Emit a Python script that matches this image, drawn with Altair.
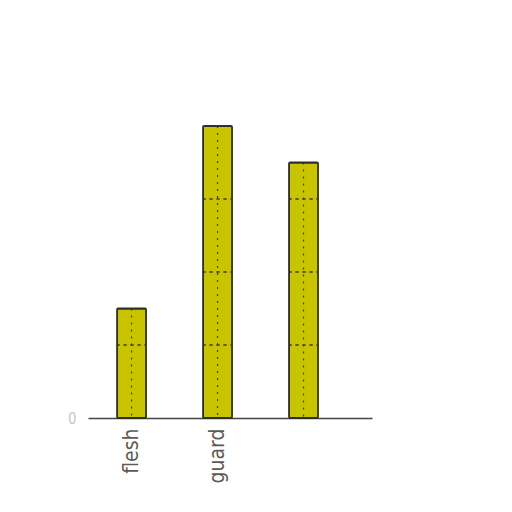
import altair as alt
import pandas as pd

categories = ["flesh", "guard", ""]
values = [1.5, 4.0, 3.5]
grid_levels = [1, 2, 3, 4, 5]

bars_df = pd.DataFrame({"cat": categories, "value": values})
rows = []
for c, v in zip(categories, values):
    for k in grid_levels:
        if k < v:
            rows.append({"cat": c, "level": k})
levels_df = pd.DataFrame(rows)

xscale = alt.Scale(paddingInner=0.663, paddingOuter=0.483, align=0.35)
yscale = alt.Scale(domain=[0, 5])

label_font = "DejaVu Sans Condensed, Liberation Sans Narrow, DejaVu Sans"

xenc = alt.X("cat:N", sort=None, scale=xscale,
             axis=alt.Axis(title=None, labelAngle=-90, ticks=False, grid=False,
                           labelFont=label_font, labelFontSize=21, labelColor="#5a5a5a",
                           labelPadding=10, domainColor="#444444", domainWidth=1.6,
                           labelAlign="right", labelBaseline="middle"))

bars = alt.Chart(bars_df).mark_bar(
    color="#c9c400", stroke="#2f2f2f", strokeWidth=1.8, cornerRadius=1
).encode(
    x=xenc,
    y=alt.Y("value:Q", scale=yscale,
            axis=alt.Axis(title=None, values=[0], format="d", ticks=False, grid=False,
                          domain=False, labelColor="#c8c8c8", labelFontSize=15,
                          labelFont=label_font, labelPadding=12)),
)

vlines = alt.Chart(bars_df).mark_rule(
    color="#3a3a00", strokeDash=[2, 5], strokeWidth=1.2
).encode(
    x=alt.X("cat:N", sort=None, scale=xscale),
    y=alt.Y("value:Q", scale=yscale),
    y2=alt.datum(0),
)

hlines = alt.Chart(levels_df).mark_bar(
    fillOpacity=0, stroke="#3a3a00", strokeDash=[3, 4], strokeWidth=1.0
).encode(
    x=alt.X("cat:N", sort=None, scale=xscale),
    y=alt.Y("level:Q", scale=yscale),
    y2="level:Q",
)

chart = alt.layer(bars, vlines, hlines).properties(
    width=284, height=365,
    autosize=alt.AutoSizeParams(type="none"),
    padding={"left": 80, "top": 45, "right": 20, "bottom": 80},
).configure_view(stroke=None)

chart.save("out.html", embed_options={"renderer": "svg", "actions": False})
